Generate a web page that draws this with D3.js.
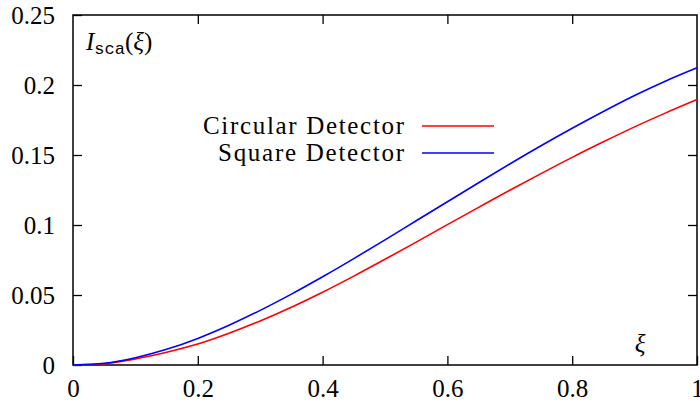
<!DOCTYPE html>
<html>
<head>
<meta charset="utf-8">
<script src="https://cdn.jsdelivr.net/npm/d3@7"></script>
<style>
  body { margin: 0; background: #fff; }
  svg { display: block; }
</style>
</head>
<body>
<svg width="700" height="404" font-family="Liberation Serif"></svg>
<script>
// данные
const xi = [0, 0.05, 0.1, 0.15, 0.2, 0.25, 0.3, 0.35, 0.4, 0.45, 0.5,
            0.55, 0.6, 0.65, 0.7, 0.75, 0.8, 0.85, 0.9, 0.95, 1.0];
const circular = [0, 0.0009, 0.0043, 0.0091, 0.0150, 0.0227, 0.0315, 0.0413, 0.0520, 0.0635, 0.0755,
                  0.0878, 0.1003, 0.1126, 0.1248, 0.1367, 0.1483, 0.1594, 0.1701, 0.1801, 0.1896];
const square = [0, 0.0012, 0.0052, 0.0112, 0.0190, 0.0284, 0.0390, 0.0506, 0.0630, 0.0760, 0.0894,
                0.1030, 0.1166, 0.1302, 0.1436, 0.1566, 0.1691, 0.1811, 0.1925, 0.2029, 0.2123];
const seriesNames = ["Circular Detector", "Square Detector"];
const seriesColors = ["#ff0000", "#0000ff"];
const xTicks = [0, 0.2, 0.4, 0.6, 0.8, 1];
const yTicks = [0, 0.05, 0.1, 0.15, 0.2, 0.25];

const svg = d3.select("svg");
const area = { left: 73, right: 697, top: 15, bottom: 365 };

const scX = d3.scaleLinear().domain([0, 1]).range([area.left, area.right]);
const scY = d3.scaleLinear().domain([0, 0.25]).range([area.bottom, area.top]);

const serif = "Liberation Serif";
const fontSize = 25;

// оси с тиками внутрь
function styleAxis(g, withLabels) {
    g.attr("font-family", serif).attr("font-size", fontSize);
    g.select(".domain").remove();
    g.selectAll("line").attr("stroke", "#000").attr("stroke-width", 1.3);
    g.selectAll("text")
        .attr("font-family", serif)
        .attr("font-size", fontSize)
        .attr("fill", "#000")
        .style("display", withLabels ? null : "none");
}

svg.append("g")
    .attr("transform", `translate(0, ${area.bottom})`)
    .call(d3.axisBottom(scX).tickValues(xTicks).tickFormat(d3.format("~g"))
        .tickSizeInner(-9).tickSizeOuter(0).tickPadding(14))
    .call(g => styleAxis(g, true));

svg.append("g")
    .attr("transform", `translate(0, ${area.top})`)
    .call(d3.axisTop(scX).tickValues(xTicks.slice(1, -1)).tickSizeInner(-9).tickSizeOuter(0))
    .call(g => styleAxis(g, false));

svg.append("g")
    .attr("transform", `translate(${area.left}, 0)`)
    .call(d3.axisLeft(scY).tickValues(yTicks).tickFormat(d3.format("~g"))
        .tickSizeInner(-9).tickSizeOuter(0).tickPadding(18))
    .call(g => styleAxis(g, true));

svg.append("g")
    .attr("transform", `translate(${area.right}, 0)`)
    .call(d3.axisRight(scY).tickValues(yTicks.slice(1, -1)).tickSizeInner(-9).tickSizeOuter(0))
    .call(g => styleAxis(g, false));

// рамка
svg.append("rect")
    .attr("x", area.left).attr("y", area.top)
    .attr("width", area.right - area.left).attr("height", area.bottom - area.top)
    .attr("fill", "none").attr("stroke", "#000").attr("stroke-width", 1.5);

// кривые
const line = d3.line()
    .x(d => scX(d[0]))
    .y(d => scY(d[1]))
    .curve(d3.curveMonotoneX);

[circular, square].forEach((vals, i) => {
    svg.append("path")
        .datum(xi.map((x, j) => [x, vals[j]]))
        .attr("d", line)
        .attr("fill", "none")
        .attr("stroke", seriesColors[i])
        .attr("stroke-width", 1.6);
});

// легенда
const legend = svg.append("g");
seriesNames.forEach((name, i) => {
    const y = 126 + i * 27;
    legend.append("text")
        .attr("x", 404).attr("y", y + 8)
        .attr("text-anchor", "end")
        .attr("font-family", serif)
        .attr("font-size", fontSize)
        .attr("textLength", i === 0 ? 201 : 186)
        .text(name);
    legend.append("line")
        .attr("x1", 422).attr("x2", 494)
        .attr("y1", y).attr("y2", y)
        .attr("stroke", seriesColors[i])
        .attr("stroke-width", 1.6);
});

// подписи осей
const yLab = svg.append("text")
    .attr("x", 86).attr("y", 50)
    .attr("font-family", serif)
    .attr("font-size", fontSize);
yLab.append("tspan").attr("font-style", "italic").text("I");
yLab.append("tspan")
    .attr("dy", 4)
    .attr("font-family", "Liberation Mono")
    .attr("font-size", 17)
    .text("sca");
yLab.append("tspan").attr("dy", -4).text("(");
yLab.append("tspan").attr("font-style", "italic").text("ξ");
yLab.append("tspan").text(")");

svg.append("text")
    .attr("x", 640).attr("y", 352)
    .attr("text-anchor", "middle")
    .attr("font-family", serif)
    .attr("font-size", fontSize)
    .attr("font-style", "italic")
    .text("ξ");
</script>
</body>
</html>
